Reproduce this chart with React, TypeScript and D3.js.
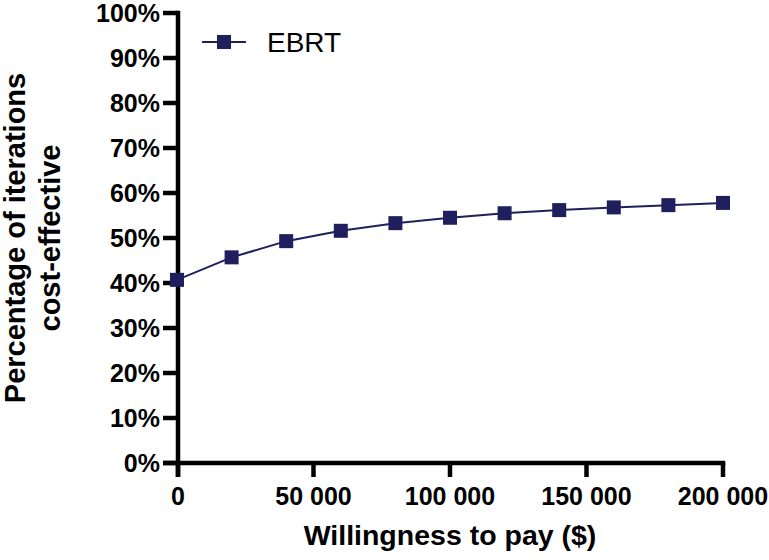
import React from "react";
import * as d3 from "d3";

const wtp = [0, 20000, 40000, 60000, 80000, 100000, 120000, 140000, 160000, 180000, 200000];
const ebrt = [40.7, 45.7, 49.3, 51.6, 53.3, 54.5, 55.5, 56.2, 56.8, 57.3, 57.8];
const xTicks = [0, 50000, 100000, 150000, 200000];
const yTicks = [0, 10, 20, 30, 40, 50, 60, 70, 80, 90, 100];
const seriesName = "EBRT";

const W = 769;
const H = 560;
const FONT = "'Liberation Sans', Arial, Helvetica, sans-serif";
const NAVY = "#1f1f5e";

export default function App() {
  const x = d3.scaleLinear().domain([0, 200000]).range([177, 723]);
  const y = d3.scaleLinear().domain([0, 100]).range([463, 13]);
  const line = d3
    .line<number>()
    .x((_, i) => x(wtp[i]))
    .y((d) => y(d));
  const fmt = (v: number) => d3.format(",")(v).replace(/,/g, " ");
  const axisX = 178;
  const axisY = 463;
  const sw = 4.5;

  return (
    <svg width={W} height={H} style={{ position: "absolute", left: 0, top: 0, background: "#fff" }}>
      {/* y axis */}
      <line x1={axisX} x2={axisX} y1={y(100) - sw / 2} y2={axisY + 14} stroke="#000" strokeWidth={sw} />
      {yTicks.map((t) => (
        <g key={"y" + t}>
          <line x1={163} x2={axisX} y1={y(t)} y2={y(t)} stroke="#000" strokeWidth={sw} />
          <text
            x={160}
            y={y(t)}
            dy="0.35em"
            textAnchor="end"
            fontFamily={FONT}
            fontWeight="bold"
            fontSize={25}
            fill="#000"
          >
            {t}%
          </text>
        </g>
      ))}
      {/* x axis */}
      <line x1={163} x2={x(200000) + sw / 2} y1={axisY} y2={axisY} stroke="#000" strokeWidth={sw} />
      {xTicks.map((t) => (
        <g key={"x" + t}>
          <line x1={t === 0 ? axisX : x(t)} x2={t === 0 ? axisX : x(t)} y1={axisY} y2={axisY + 14} stroke="#000" strokeWidth={sw} />
          <text
            x={t === 0 ? axisX : x(t)}
            y={505}
            textAnchor="middle"
            fontFamily={FONT}
            fontWeight="bold"
            fontSize={25}
            fill="#000"
          >
            {fmt(t)}
          </text>
        </g>
      ))}
      {/* axis titles */}
      <text x={450} y={545} textAnchor="middle" fontFamily={FONT} fontWeight="bold" fontSize={28.5} fill="#000">
        Willingness to pay ($)
      </text>
      <g transform="translate(25,238) rotate(-90)">
        <text x={0} y={0} textAnchor="middle" fontFamily={FONT} fontWeight="bold" fontSize={29} fill="#000">
          Percentage of iterations
        </text>
        <text x={0} y={35} textAnchor="middle" fontFamily={FONT} fontWeight="bold" fontSize={29} fill="#000">
          cost-effective
        </text>
      </g>
      {/* series */}
      <path d={line(ebrt) ?? ""} fill="none" stroke={NAVY} strokeWidth={2} />
      {ebrt.map((v, i) => (
        <rect key={"m" + i} x={x(wtp[i]) - 7} y={y(v) - 7} width={14} height={14} fill={NAVY} />
      ))}
      {/* legend */}
      <line x1={202} x2={246} y1={42} y2={42} stroke={NAVY} strokeWidth={2} />
      <rect x={217} y={35} width={14} height={14} fill={NAVY} />
      <text x={267} y={52} fontFamily={FONT} fontSize={28} fill="#000">
        {seriesName}
      </text>
    </svg>
  );
}
